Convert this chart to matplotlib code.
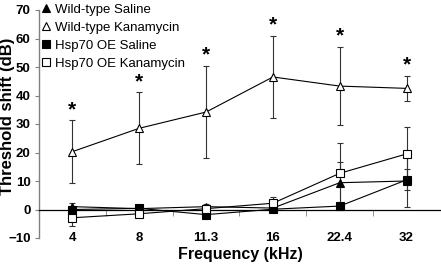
import matplotlib
matplotlib.use("Agg")
import matplotlib.pyplot as plt
from matplotlib.lines import Line2D
import numpy as np

plt.rcParams['font.family'] = ['Liberation Sans', 'DejaVu Sans']

freqs = ["4", "8", "11.3", "16", "22.4", "32"]
wt_sal = [1.0, 0.3, 1.0, 0.5, 9.4, 10.0]
wt_sal_err = [1.2, 0.8, 0.8, 1.0, 7.4, 9.0]
hsp_sal = [0.0, 0.4, -1.8, 0.1, 1.2, 10.4]
hsp_sal_err = [0.6, 0.6, 0.6, 0.6, 1.0, 3.7]
wt_kan = [20.3, 28.5, 34.2, 46.5, 43.3, 42.5]
wt_kan_err = [11.0, 12.6, 16.3, 14.3, 13.7, 4.4]
hsp_kan = [-2.9, -1.5, 0.3, 2.2, 12.7, 19.5]
hsp_kan_err = [3.0, 1.0, 1.0, 2.1, 10.5, 9.3]
signif = [True, True, True, True, True, True]

W, H = 441, 267
fig = plt.figure(figsize=(W / 100, H / 100), dpi=100)
ax = fig.add_axes([39 / W, 29 / H, 401 / W, 228 / H])

x = np.arange(len(freqs))
series = [
    ("Wild-type Saline", wt_sal, wt_sal_err, "^", "black"),
    ("Wild-type Kanamycin", wt_kan, wt_kan_err, "^", "white"),
    ("Hsp70 OE Saline", hsp_sal, hsp_sal_err, "s", "black"),
    ("Hsp70 OE Kanamycin", hsp_kan, hsp_kan_err, "s", "white"),
]
for label, y, e, m, fc in series:
    ax.errorbar(x, y, yerr=e, fmt="-", marker=m, ms=6, mfc=fc, mec="black",
                mew=0.8, color="black", lw=0.8, ecolor="#333333", elinewidth=0.8,
                capsize=2, capthick=0.8, label=label, zorder=3)

for xi, yi, ei, s in zip(x, wt_kan, wt_kan_err, signif):
    if s:
        ax.annotate("*", (xi, yi + ei), xytext=(0, 1), textcoords="offset points",
                    ha="center", va="bottom", fontsize=15, fontweight="bold")

ax.set_xlim(-0.5, 5.5)
ax.set_ylim(-10, 70)
ax.set_yticks(np.arange(-10, 71, 10))
ax.tick_params(axis="y", direction="out", length=3, width=0.8, color="#808080",
               labelsize=9.5, pad=3)
for lab in ax.get_yticklabels():
    lab.set_fontweight("bold")

ax.spines["top"].set_visible(False)
ax.spines["right"].set_visible(False)
ax.spines["left"].set_color("#808080")
ax.spines["left"].set_linewidth(1.0)
ax.spines["bottom"].set_position(("data", 0))
ax.spines["bottom"].set_linewidth(0.9)

ax.set_xticks(x)
ax.set_xticklabels(freqs, fontweight="bold", fontsize=9.5)
ax.set_xticks(x[:-1] + 0.5, minor=True)
ax.tick_params(axis="x", which="major", length=0, pad=16)
ax.tick_params(axis="x", which="minor", direction="out", length=4, width=0.6, color="#808080")

ax.set_ylabel("Threshold shift (dB)", fontsize=12, fontweight="bold", va="center")
ax.yaxis.set_label_coords(-31.5 / 401, 0.533)
ax.set_xlabel("Frequency (kHz)", fontsize=11.5, fontweight="bold", va="center")
ax.xaxis.set_label_coords(0.5025, -17 / 228)

handles = [Line2D([], [], ls="none", marker=m, ms=6, mfc=fc, mec="black", mew=0.8)
           for _, _, _, m, fc in series]
ax.legend(handles, [s[0] for s in series], loc="upper left",
          bbox_to_anchor=(0.0, 1.035), frameon=False, fontsize=9.5,
          handlelength=0.8, handletextpad=0.3, labelspacing=0.45,
          borderaxespad=0, borderpad=0.1)

fig.savefig("out.png", dpi=100)
